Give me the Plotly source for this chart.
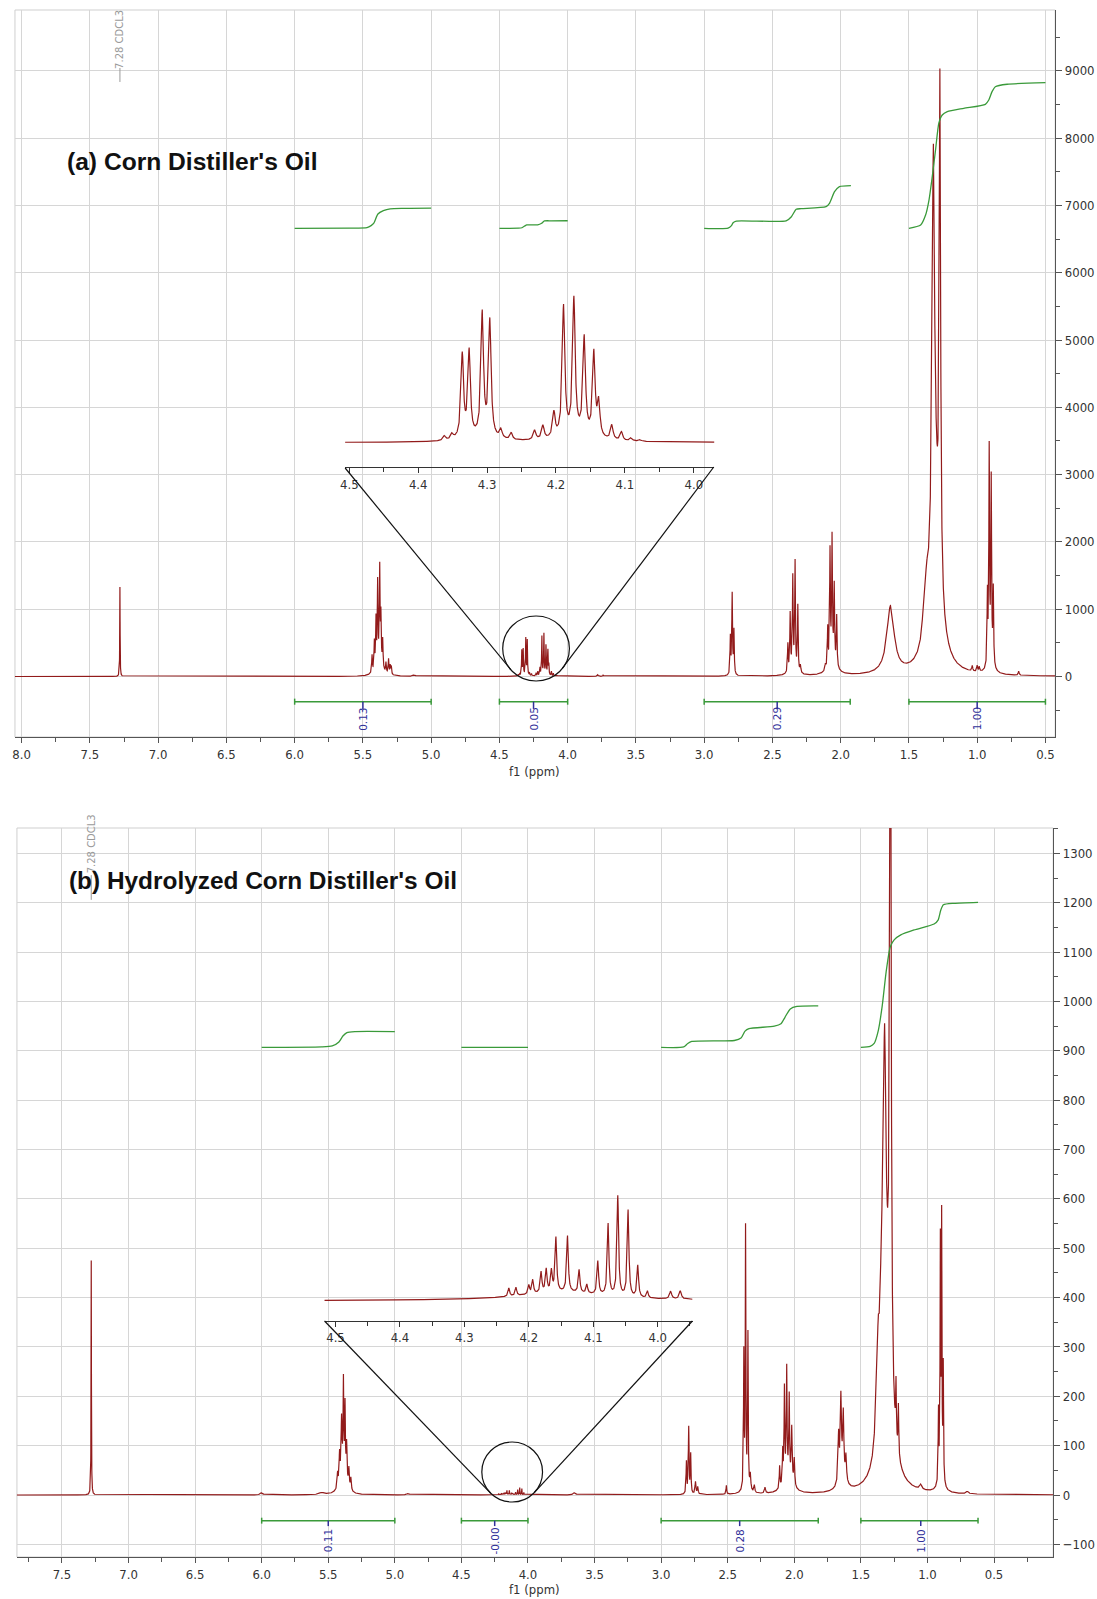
import numpy as np
import plotly.graph_objects as go

W, H = 1097, 1599

# ---------------- Panel (a): Corn Distiller's Oil -- peaks (ppm, height, half-width) ----------------
a_cdcl3 = [(7.280, 1330, 0.0015)]
a_olefin = [(5.433, 260, 0.003), (5.416, 420, 0.003), (5.404, 720, 0.003), (5.392, 1230, 0.003),
            (5.377, 1420, 0.003), (5.368, 720, 0.003), (5.355, 420, 0.003), (5.331, 150, 0.003),
            (5.312, 220, 0.003), (5.300, 130, 0.003), (5.292, 120, 0.003), (5.380, 150, 0.03),
            (5.124, 22, 0.01)]
a_glyceride = [(4.362, 20, 0.0022), (4.351, 24, 0.0022), (4.336, 370, 0.0022), (4.326, 380, 0.0022),
               (4.307, 545, 0.0022), (4.296, 515, 0.0022), (4.280, 40, 0.0022), (4.265, 30, 0.0022),
               (4.231, 42, 0.0022), (4.219, 60, 0.0022), (4.203, 110, 0.0022), (4.189, 575, 0.0022),
               (4.174, 600, 0.0022), (4.159, 430, 0.0022), (4.145, 370, 0.0022), (4.138, 150, 0.0022),
               (4.119, 65, 0.0022), (4.105, 38, 0.0022), (4.091, 15, 0.0022), (4.078, 8, 0.0022),
               (4.310, 15, 0.03), (4.170, 25, 0.03)]
a_minor = [(3.780, 25, 0.004), (3.740, 18, 0.004), (1.036, 80, 0.004), (1.000, 90, 0.004),
           (0.985, 70, 0.004), (0.696, 60, 0.004)]
a_bisallylic = [(2.808, 560, 0.003), (2.795, 1200, 0.003), (2.782, 650, 0.003)]
a_alpha = [(2.387, 420, 0.003), (2.370, 830, 0.003), (2.351, 1330, 0.003), (2.334, 1580, 0.003),
           (2.314, 980, 0.003), (2.295, 110, 0.004), (2.350, 120, 0.025)]
a_allylic = [(2.112, 80, 0.004), (2.095, 580, 0.003), (2.078, 1650, 0.003), (2.063, 1780, 0.003),
             (2.047, 1100, 0.003), (2.029, 740, 0.003), (2.060, 250, 0.03)]
a_beta = [(1.635, 1000, 0.032)]
a_methylene = [(1.390, 350, 0.014), (1.370, 500, 0.014), (1.321, 5350, 0.010), (1.273, 7350, 0.006),
               (1.310, 2550, 0.042)]
a_methyl = [(0.925, 1050, 0.003), (0.912, 3150, 0.003), (0.897, 2650, 0.003), (0.882, 1100, 0.003),
            (0.900, 200, 0.02)]

# integration curves (ppm, value)
a_int1_ppm = [6.0, 5.6, 5.47, 5.44, 5.42, 5.39, 5.35, 5.30, 5.2, 5.0]
a_int1_val = [6660, 6663, 6670, 6700, 6735, 6872, 6921, 6950, 6957, 6960]
a_int2_ppm = [4.5, 4.36, 4.335, 4.31, 4.30, 4.22, 4.19, 4.17, 4.12, 4.0]
a_int2_val = [6660, 6661, 6668, 6700, 6709, 6711, 6735, 6769, 6771, 6772]
a_int3_ppm = [3.0, 2.825, 2.80, 2.788, 2.764, 2.40, 2.361, 2.326, 2.29, 2.107, 2.082, 2.045, 2.009, 1.925]
a_int3_val = [6660, 6662, 6700, 6743, 6768, 6770, 6832, 6942, 6952, 6981, 7031, 7204, 7278, 7293]
a_int4_ppm = [1.5, 1.414, 1.378, 1.353, 1.329, 1.305, 1.281, 1.256, 1.219, 1.098, 0.94, 0.915, 0.891, 0.867, 0.78, 0.5]
a_int4_val = [6660, 6709, 6857, 7080, 7427, 7823, 8220, 8343, 8393, 8443, 8502, 8566, 8690, 8764, 8800, 8823]
a_br_from = [6.0, 4.5, 3.0, 1.5]
a_br_to = [5.0, 4.0, 1.93, 0.5]
a_br_mid = [5.5, 4.25, 2.465, 1.0]
a_br_label = ["0.13", "0.05", "0.29", "1.00"]

# ---------------- Panel (b): Hydrolyzed Corn Distiller's Oil ----------------
b_cdcl3 = [(7.280, 475, 0.0015)]
b_olefin = [(5.430, 30, 0.004), (5.415, 60, 0.004), (5.400, 115, 0.004), (5.386, 185, 0.003),
            (5.374, 145, 0.003), (5.362, 80, 0.004), (5.345, 40, 0.004), (5.330, 25, 0.004),
            (5.390, 40, 0.025)]
b_glyceride = [(4.231, 1.2, 0.0015), (4.220, 1.2, 0.0015), (4.200, 1.3, 0.0015), (4.194, 2.0, 0.0015),
               (4.181, 3.0, 0.0015), (4.173, 3.3, 0.0015), (4.165, 3.0, 0.0015), (4.158, 7.8, 0.0015),
               (4.140, 8.1, 0.0015), (4.122, 3.3, 0.0015), (4.110, 1.3, 0.0015), (4.093, 4.8, 0.0015),
               (4.077, 10.3, 0.0015), (4.062, 14.4, 0.0015), (4.046, 12.5, 0.0015), (4.031, 4.6, 0.0015),
               (4.016, 1.0, 0.0015), (3.980, 1.1, 0.002), (3.965, 1.2, 0.002), (4.150, 1.2, 0.08)]
b_minor = [(6.000, 5, 0.01), (5.550, 4, 0.02), (4.900, 3, 0.01), (3.650, 5, 0.01), (2.510, 18, 0.003),
           (1.050, 10, 0.01), (0.700, 5, 0.01)]
b_bisallylic = [(2.810, 65, 0.003), (2.793, 135, 0.003), (2.778, 80, 0.003), (2.742, 25, 0.004),
                (2.725, 15, 0.004)]
b_alpha = [(2.379, 270, 0.0025), (2.366, 515, 0.0025), (2.348, 305, 0.0025), (2.330, 30, 0.004),
           (2.300, 15, 0.004), (2.220, 12, 0.005), (2.360, 20, 0.02)]
b_allylic = [(2.110, 45, 0.003), (2.087, 65, 0.003), (2.074, 185, 0.003), (2.057, 215, 0.003),
             (2.038, 160, 0.003), (2.019, 110, 0.004), (2.000, 55, 0.004), (2.050, 40, 0.035)]
b_beta = [(1.667, 95, 0.005), (1.650, 160, 0.005), (1.632, 125, 0.005), (1.612, 50, 0.005),
          (1.640, 30, 0.03)]
b_methylene = [(1.390, 20, 0.012), (1.370, 170, 0.012), (1.345, 200, 0.012), (1.322, 540, 0.011),
               (1.278, 1700, 0.006), (1.310, 360, 0.04), (1.236, 110, 0.003), (1.218, 100, 0.003)]
b_methyl = [(0.917, 140, 0.0025), (0.903, 470, 0.0025), (0.893, 520, 0.0025), (0.881, 230, 0.0025),
            (0.900, 30, 0.02)]

b_int1_ppm = [6.0, 5.55, 5.47, 5.42, 5.39, 5.36, 5.30, 5.0]
b_int1_val = [907, 908, 910, 918, 930, 937, 939, 939]
b_int2_ppm = [4.5, 4.0]
b_int2_val = [907, 907]
b_int3_ppm = [3.0, 2.83, 2.80, 2.77, 2.45, 2.40, 2.37, 2.34, 2.15, 2.10, 2.07, 2.03, 1.98, 1.82]
b_int3_val = [907, 908, 915, 919, 921, 926, 940, 945, 950, 955, 968, 985, 990, 991]
b_int4_ppm = [1.5, 1.43, 1.40, 1.37, 1.34, 1.31, 1.28, 1.25, 1.2, 1.1, 0.95, 0.92, 0.90, 0.88, 0.8, 0.62]
b_int4_val = [907, 909, 915, 940, 990, 1060, 1110, 1125, 1135, 1145, 1157, 1165, 1185, 1196, 1199, 1201]
b_br_from = [6.0, 4.5, 3.0, 1.5]
b_br_to = [5.0, 4.0, 1.82, 0.62]
b_br_mid = [5.5, 4.25, 2.41, 1.05]
b_br_label = ["0.11", "-0.00", "0.28", "1.00"]

RED = "#921b1b"
GREEN = "#3a9a3a"
BLUE = "#30309a"
GRID = "#d6d6d6"
AX = "#555555"
TICKFONT = dict(family="DejaVu Sans Condensed, DejaVu Sans, Verdana", size=13, color="#333333")


def spectrum(x, *groups):
    y = np.zeros_like(x)
    for g in groups:
        for p, h, w in g:
            y += h / (1.0 + ((x - p) / w) ** 2)
    return y


def px(xp):
    return xp / W


def py(yp):
    return 1 - yp / H


a_groups = [a_cdcl3, a_olefin, a_glyceride, a_minor, a_bisallylic, a_alpha, a_allylic, a_beta, a_methylene, a_methyl]
b_groups = [b_cdcl3, b_olefin, b_glyceride, b_minor, b_bisallylic, b_alpha, b_allylic, b_beta, b_methylene, b_methyl]

xa = np.arange(0.42, 8.06, 0.0004)
ya = spectrum(xa, *a_groups)
xb = np.arange(0.05, 7.85, 0.0004)
yb = spectrum(xb, *b_groups)
xai = np.arange(3.97, 4.507, 0.0002)
yai = spectrum(xai, *a_groups)
xbi = np.arange(3.946, 4.518, 0.0002)
ybi = spectrum(xbi, *b_groups)

fig = go.Figure()
line_red = dict(color=RED, width=1.2)
fig.add_trace(go.Scatter(x=xa, y=ya, mode="lines", line=line_red, xaxis="x", yaxis="y", hoverinfo="skip"))
fig.add_trace(go.Scatter(x=xb, y=yb, mode="lines", line=line_red, xaxis="x2", yaxis="y2", hoverinfo="skip"))
fig.add_trace(go.Scatter(x=xai, y=yai, mode="lines", line=line_red, xaxis="x3", yaxis="y3", hoverinfo="skip"))
fig.add_trace(go.Scatter(x=xbi, y=ybi, mode="lines", line=line_red, xaxis="x4", yaxis="y4", hoverinfo="skip"))

for xs, ys in [(a_int1_ppm, a_int1_val), (a_int2_ppm, a_int2_val), (a_int3_ppm, a_int3_val), (a_int4_ppm, a_int4_val)]:
    fig.add_trace(go.Scatter(x=xs, y=ys, mode="lines", line=dict(color=GREEN, width=1.3, shape="spline", smoothing=0.6),
                             xaxis="x", yaxis="y", hoverinfo="skip"))
for xs, ys in [(b_int1_ppm, b_int1_val), (b_int2_ppm, b_int2_val), (b_int3_ppm, b_int3_val), (b_int4_ppm, b_int4_val)]:
    fig.add_trace(go.Scatter(x=xs, y=ys, mode="lines", line=dict(color=GREEN, width=1.3, shape="spline", smoothing=0.6),
                             xaxis="x2", yaxis="y2", hoverinfo="skip"))

shapes = []
annotations = []

# integration brackets
def brackets(xref, yref, froms, tos, mids, labels, ybr, cap, ytick, ylab):
    for f, t, m, lab in zip(froms, tos, mids, labels):
        shapes.append(dict(type="line", xref=xref, yref=yref, x0=f, x1=t, y0=ybr, y1=ybr,
                           line=dict(color=GREEN, width=1.5)))
        for e in (f, t):
            shapes.append(dict(type="line", xref=xref, yref=yref, x0=e, x1=e, y0=ybr - cap, y1=ybr + cap,
                               line=dict(color=GREEN, width=1.5)))
        shapes.append(dict(type="line", xref=xref, yref=yref, x0=m, x1=m, y0=ybr, y1=ytick,
                           line=dict(color=BLUE, width=1.5)))
        annotations.append(dict(xref=xref, yref=yref, x=m, y=ylab, text=lab, textangle=-90, showarrow=False,
                                font=dict(family="DejaVu Sans", size=10.5, color=BLUE)))

brackets("x", "y", a_br_from, a_br_to, a_br_mid, a_br_label, -374, 45, -482, -631)
brackets("x2", "y2", b_br_from, b_br_to, b_br_mid, b_br_label, -52, 6, -63, -93)

# frames (light) around the plot areas
for (l, t, r, b) in [(10, 10, 1055, 737), (12, 828, 1053, 1557)]:
    shapes.append(dict(type="rect", xref="paper", yref="paper", x0=px(l), x1=px(r), y0=py(b), y1=py(t),
                       line=dict(color="#cfcfcf", width=1), layer="below"))

# zoom circles and connecting lines
def tangent(P, C, r, side):
    dx, dy = C[0] - P[0], C[1] - P[1]
    d = np.hypot(dx, dy)
    th = np.arctan2(dy, dx)
    al = np.arcsin(r / d)
    L = np.sqrt(d * d - r * r)
    a = th + side * al
    return (P[0] + L * np.cos(a), P[1] + L * np.sin(a))

for (cx0, cy0, cx1, cy1), PL, PR in [((500, 616, 567, 681), (341.7, 468), (712, 467)),
                                     ((479, 1442, 540, 1502), (321, 1321), (690.5, 1321))]:
    shapes.append(dict(type="circle", xref="paper", yref="paper", x0=px(cx0), x1=px(cx1), y0=py(cy1), y1=py(cy0),
                       line=dict(color="#111111", width=1.2)))
    C = ((cx0 + cx1) / 2, (cy0 + cy1) / 2)
    r = ((cx1 - cx0) + (cy1 - cy0)) / 4
    for P, s in [(PL, 1), (PR, -1)]:
        T = tangent(P, C, r, s)
        shapes.append(dict(type="line", xref="paper", yref="paper", x0=px(P[0]), y0=py(P[1]), x1=px(T[0]), y1=py(T[1]),
                           line=dict(color="#111111", width=1.2)))

# solvent markers
shapes.append(dict(type="line", xref="x", yref="y", x0=7.28, x1=7.28, y0=8834, y1=9042, line=dict(color="#9a9a9a", width=1)))
annotations.append(dict(xref="x", yref="y", x=7.28, y=9473, text="7.28 CDCL3", textangle=-90, showarrow=False,
                        font=dict(family="DejaVu Sans", size=10, color="#9a9a9a")))
shapes.append(dict(type="line", xref="x2", yref="y2", x0=7.28, x1=7.28, y0=1206, y1=1256, line=dict(color="#9a9a9a", width=1)))
annotations.append(dict(xref="x2", yref="y2", x=7.28, y=1319, text="7.28 CDCL3", textangle=-90, showarrow=False,
                        font=dict(family="DejaVu Sans", size=10, color="#9a9a9a")))

# titles
annotations.append(dict(xref="paper", yref="paper", x=px(60), y=py(162), xanchor="left", yanchor="middle",
                        text="<b>(a) Corn Distiller's Oil</b>", showarrow=False,
                        font=dict(family="Liberation Sans, Arial", size=24.6, color="#111111")))
annotations.append(dict(xref="paper", yref="paper", x=px(62), y=py(881), xanchor="left", yanchor="middle",
                        text="<b>(b) Hydrolyzed Corn Distiller's Oil</b>", showarrow=False,
                        font=dict(family="Liberation Sans, Arial", size=24.4, color="#111111")))
for xc, yc in [(532, 771), (532, 1589)]:
    annotations.append(dict(xref="paper", yref="paper", x=px(xc), y=py(yc), xanchor="center", yanchor="middle",
                            text="f1 (ppm)", showarrow=False, font=TICKFONT))

def xaxis_main(dom, rng, anchor):
    return dict(domain=dom, range=rng, anchor=anchor, showgrid=True, gridcolor=GRID, gridwidth=1,
                dtick=0.5, tick0=0, tickformat=".1f", ticks="outside", ticklen=5, tickcolor=AX,
                showline=True, linecolor=AX, linewidth=1, zeroline=False, tickfont=TICKFONT,
                minor=dict(dtick=0.25, tick0=0, ticks="outside", ticklen=4, tickcolor=AX, showgrid=False))

def yaxis_main(dom, rng, anchor, dt):
    return dict(domain=dom, range=rng, anchor=anchor, side="right", showgrid=True, gridcolor=GRID, gridwidth=1,
                dtick=dt, tick0=0, tickformat="d", ticks="outside", ticklen=6, tickcolor=AX,
                showline=True, linecolor=AX, linewidth=1, zeroline=False, tickfont=TICKFONT,
                minor=dict(dtick=dt / 2, tick0=0, ticks="outside", ticklen=4, tickcolor=AX, showgrid=False))

def xaxis_inset(dom, rng, anchor):
    return dict(domain=dom, range=rng, anchor=anchor, showgrid=False, dtick=0.1, tick0=0, tickformat=".1f",
                ticks="outside", ticklen=5, tickcolor="#333333", showline=True, linecolor="#333333", linewidth=1,
                zeroline=False, tickfont=TICKFONT,
                minor=dict(dtick=0.05, tick0=0, ticks="outside", ticklen=4, tickcolor="#333333", showgrid=False))

ka = 0.2255  # px per unit in inset (a)
kb = 6.93    # px per unit in inset (b)

fig.update_layout(
    width=W, height=H, autosize=False, margin=dict(l=0, r=0, t=0, b=0),
    paper_bgcolor="white", plot_bgcolor="rgba(0,0,0,0)", showlegend=False,
    xaxis=xaxis_main([px(10), px(1055)], [8.049, 0.4285], "y"),
    yaxis=yaxis_main([py(737), py(10)], [-(737 - 676.5) / 0.0673, (676.5 - 10) / 0.0673], "x", 1000),
    xaxis2=xaxis_main([px(12), px(1053)], [7.838, 0.0554], "y2"),
    yaxis2=yaxis_main([py(1557), py(828)], [-(1557 - 1495) / 0.4935, (1495 - 828) / 0.4935], "x2", 100),
    xaxis3=xaxis_inset([px(341.7), px(712.7)], [4.506, 3.970], "y3"),
    yaxis3=dict(domain=[py(467.3), py(280)], range=[-(467.3 - 442.7) / ka, (442.7 - 280) / ka], anchor="x3",
                visible=False),
    xaxis4=xaxis_inset([px(321), px(690.7)], [4.517, 3.946], "y4"),
    yaxis4=dict(domain=[py(1320.7), py(1180)], range=[-(1320.7 - 1301.7) / kb, (1301.7 - 1180) / kb], anchor="x4",
                visible=False),
    shapes=shapes, annotations=annotations,
)

fig.write_html("out.html")
